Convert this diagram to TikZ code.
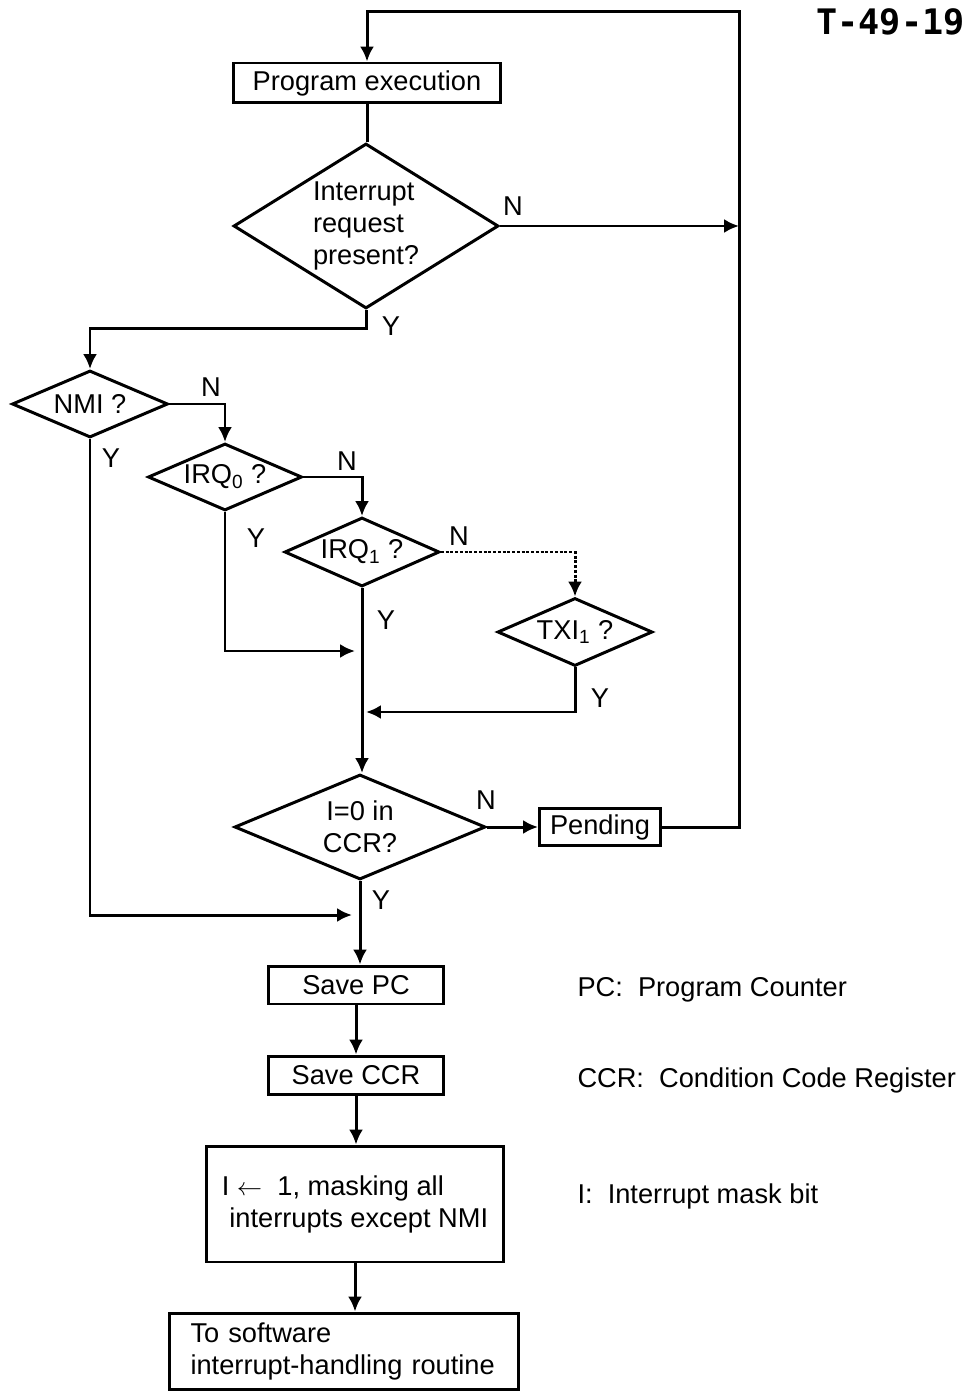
\documentclass[tikz,border=0pt]{standalone}
\usepackage{fontspec}
\setmainfont{Liberation Sans}
\newfontfamily\stampfont{DejaVu Sans Mono}
\usetikzlibrary{shapes.geometric,arrows.meta}

\begin{document}
\begin{tikzpicture}[x=0.02cm,y=-0.02cm,
  font=\fontsize{15.5}{18.2}\selectfont,
  line width=1.7pt,
  box/.style={draw,rectangle,inner sep=0pt},
  test/.style={draw,diamond,inner sep=0pt},
  arr/.style={-{Latex[length=8.5pt,width=8pt]}},
  lbl/.style={inner sep=0pt}]
  \useasboundingbox (0,0) rectangle (969,1391);

  % main column
  \node[box,minimum width=5.36cm,minimum height=0.8cm] (prog) at (367,83) {Program execution};
  \node[test,aspect=1.6,minimum width=5.3cm,minimum height=3.3cm,align=left] (req) at (366,226) {Interrupt\\request\\present?};
  \node[test,aspect=2.3,minimum width=3.12cm,minimum height=1.34cm] (nmi) at (90,404) {NMI ?};
  \node[test,aspect=2.3,minimum width=3.08cm,minimum height=1.34cm] (irqzero) at (225,477) {IRQ\textsubscript{0} ?};
  \node[test,aspect=2.3,minimum width=3.1cm,minimum height=1.38cm] (irqone) at (362,552) {IRQ\textsubscript{1} ?};
  \node[test,aspect=2.3,minimum width=3.1cm,minimum height=1.36cm] (txi) at (575,632) {TXI\textsubscript{1} ?};
  \node[test,aspect=2.4,minimum width=5.02cm,minimum height=2.1cm,align=center] (ccr) at (360,827) {I=0 in\\CCR?};
  \node[box,minimum width=2.42cm,minimum height=0.74cm] (pend) at (600,827) {Pending};
  \node[box,minimum width=3.5cm,minimum height=0.76cm] (savepc) at (356,985) {Save PC};
  \node[box,minimum width=3.52cm,minimum height=0.76cm] (saveccr) at (356,1075) {Save CCR};
  \node[box,minimum width=5.96cm,minimum height=2.32cm,align=left] (mask) at (355,1204)
    {I $\leftarrow$\ \ 1, masking all\\\ interrupts except NMI};
  \node[box,minimum width=6.98cm,minimum height=1.52cm,align=left,text width=6.14cm] (handler) at (344,1351)
    {To software\\interrupt-handling routine};

  % legend
  \node[lbl,anchor=west] (legpc) at (576,990) {PC:\ \ Program Counter};
  \node[lbl,anchor=west] (legccr) at (576,1080) {CCR:\ \ Condition Code Register};
  \node[lbl,anchor=west] (legi) at (576,1196) {I:\ \ Interrupt mask bit};
  \node[lbl,anchor=east,font=\stampfont\bfseries\fontsize{20}{22}\selectfont] (stamp) at (966,22) {T-49-19};

  % free ends
  \coordinate (rtop) at (739,12);
  \coordinate (joinA) at (355,651);
  \coordinate (joinB) at (366,712);
  \coordinate (joinC) at (352,915);

  % connectors
  \draw (prog.south) -- (prog.south |- req.north);
  \draw[arr] (req.east) -- (req.east -| rtop);
  \node[lbl] (nreq) at (513,206) {N};
  \draw[arr] (req.south) -- ++(0,19) -| (nmi.north);
  \node[lbl] (yreq) at (391,326) {Y};
  \draw[arr] (nmi.east) -| (irqzero.north);
  \node[lbl] (nnmi) at (211,387) {N};
  \draw[arr] (nmi.south) |- (joinC);
  \node[lbl] (ynmi) at (111,458) {Y};
  \draw[arr] (irqzero.east) -| (irqone.north);
  \node[lbl] (nirqzero) at (347,461) {N};
  \draw[arr] (irqzero.south) |- (joinA);
  \node[lbl] (yirqzero) at (256,538) {Y};
  \draw[arr,densely dotted] (irqone.east) -| (txi.north);
  \node[lbl] (nirqone) at (459,536) {N};
  \draw[arr] (irqone.south) -- (irqone.south |- ccr.north);
  \node[lbl] (yirqone) at (386,620) {Y};
  \draw[arr] (txi.south) |- (joinB);
  \node[lbl] (ytxi) at (600,698) {Y};
  \draw[arr] (ccr.east) -- (pend.west);
  \node[lbl] (nccr) at (486,800) {N};
  \draw[arr] (pend.east) -| (rtop) -| (prog.north);
  \draw[arr] (ccr.south) -- (ccr.south |- savepc.north);
  \node[lbl] (yccr) at (381,900) {Y};
  \draw[arr] (savepc.south) -- (savepc.south |- saveccr.north);
  \draw[arr] (saveccr.south) -- (saveccr.south |- mask.north);
  \draw[arr] (mask.south) -- (mask.south |- handler.north);
\end{tikzpicture}
\end{document}
